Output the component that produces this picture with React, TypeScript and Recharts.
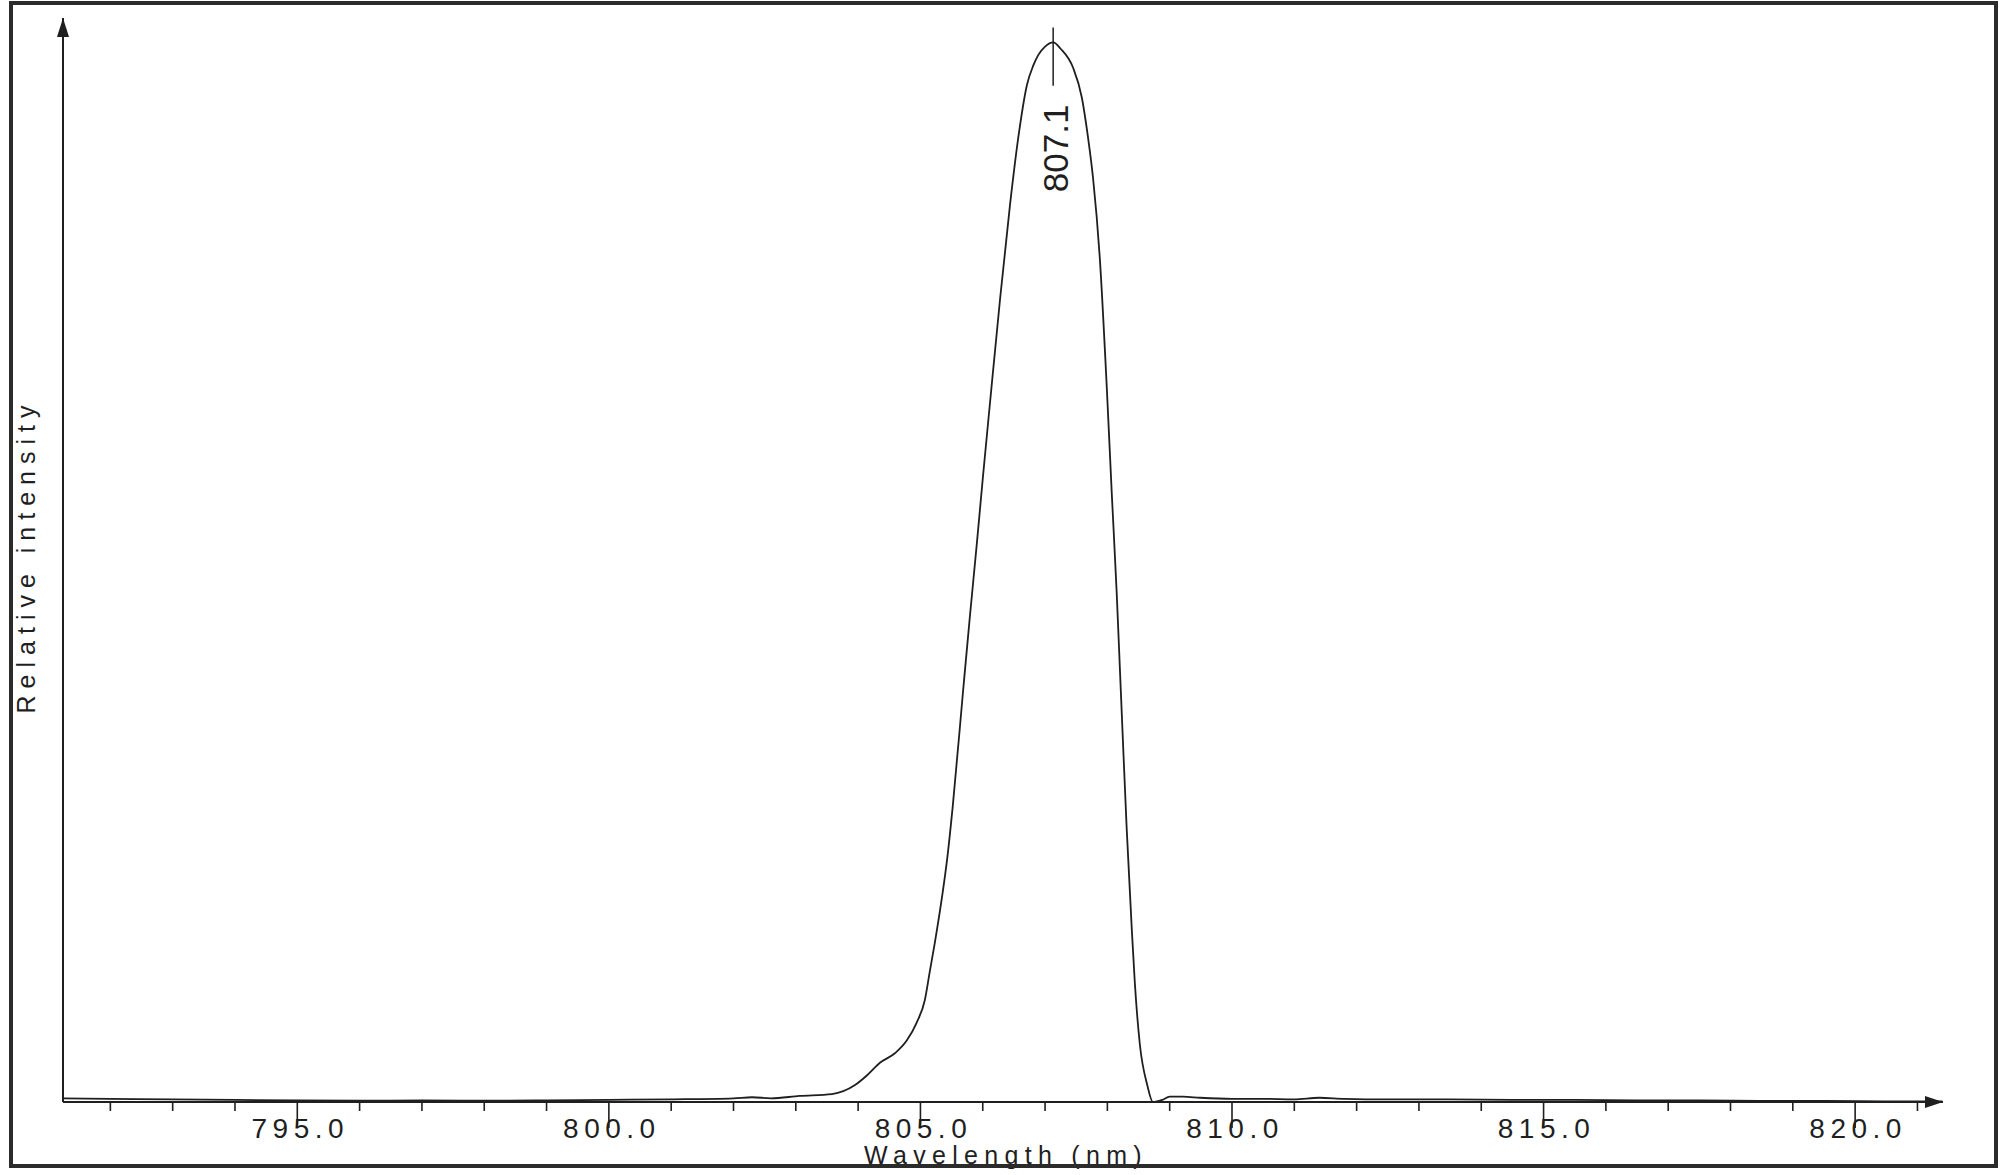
import { LineChart, Line, XAxis, YAxis, ReferenceLine, ReferenceDot } from 'recharts';

// emission spectrum
const wavelengthNm = [
  791.24, 792.0, 793.0, 794.0, 795.0, 796.0, 797.0, 798.0, 799.0, 800.0, 801.0, 802.0,
  802.3, 802.6, 803.06, 803.58, 803.95, 804.14, 804.35, 804.59, 804.78, 804.94,
  805.07, 805.15, 805.23, 805.35, 805.43, 805.52, 805.68, 805.79, 805.91,
  806.0, 806.12, 806.28, 806.44, 806.57, 806.71, 806.81, 806.89,
  807.0, 807.13, 807.25, 807.45, 807.59, 807.69, 807.77, 807.88, 807.99,
  808.07, 808.15, 808.2, 808.25, 808.31, 808.39, 808.44, 808.52, 808.64, 808.73, 808.88,
  809.0, 809.21, 809.49,
  810.0, 810.5, 811.0, 811.4, 811.8, 812.5, 813.5, 814.5, 815.5, 816.5, 817.5, 818.5, 819.5, 820.5, 821.4,
];
const relIntensity = [
  0.35, 0.3, 0.25, 0.2, 0.15, 0.12, 0.15, 0.12, 0.15, 0.2, 0.25, 0.35,
  0.45, 0.35, 0.57, 0.75, 1.6, 2.5, 3.7, 4.6, 5.8, 7.5,
  9.6, 12.3, 15.0, 19.5, 23.0, 28.0, 38.5, 45.6, 53.0,
  58.8, 66.2, 75.9, 84.8, 91.0, 96.0, 97.8, 98.8,
  99.6, 100, 99.4, 97.6, 94.8, 91.0, 87.2, 79.5, 67.5,
  57.5, 48.0, 41.0, 34.0, 25.8, 16.5, 11.3, 5.5, 1.6, 0.0, 0.2,
  0.5, 0.5, 0.4,
  0.3, 0.3, 0.25, 0.4, 0.3, 0.25, 0.25, 0.2, 0.2, 0.15, 0.15, 0.1, 0.1, 0.05, 0.05,
];
const xTicks = [
  792, 793, 794, 795, 796, 797, 798, 799, 800, 801, 802, 803, 804, 805, 806,
  807, 808, 809, 810, 811, 812, 813, 814, 815, 816, 817, 818, 819, 820, 821,
];
const xDomain = [791.24, 821.41];
const yDomain = [0, 102.3];
const peakNm = 807.13;
const peakLabel = '807.1';

const dados = wavelengthNm.map((w, i) => ({ nm: w, val: relIntensity[i] }));

const FONTE = '"Liberation Sans", Arial, Helvetica, sans-serif';
const COR = '#1f1f1f';

const TickEixoX = (props: any) => {
  const { x, y, payload } = props;
  const major = payload.value % 5 === 0;
  return (
    <g>
      <line x1={x} y1={y} x2={x} y2={y + (major ? 26 : 9)} stroke={COR} strokeWidth={1.6} />
      {major && (
        <text x={x + 3} y={y + 36} textAnchor="middle" fontFamily={FONTE} fontSize={28}
          letterSpacing={5.5} fill={COR}>
          {payload.value.toFixed(1)}
        </text>
      )}
    </g>
  );
};

export default function App() {
  return (
    <div style={{ position: 'relative', width: 2006, height: 1175, background: '#fff' }}>
      <style>{'body{margin:0;background:#fff}'}</style>
      <LineChart width={2006} height={1175} data={dados}
        margin={{ top: 18, right: 63, bottom: 72, left: 62 }}>
        <XAxis dataKey="nm" type="number" domain={xDomain} ticks={xTicks} height={1}
          tickSize={0} tickMargin={0} tickLine={false} interval={0}
          axisLine={{ stroke: COR, strokeWidth: 2 }} tick={(p: any) => <TickEixoX {...p} />}
          label={{
            content: ({ viewBox }: any) => (
              <text x={viewBox.x + viewBox.width / 2 + 3} y={viewBox.y + 62} textAnchor="middle"
                fontFamily={FONTE} fontSize={25} letterSpacing={6.3} fill={COR}>
                Wavelength (nm)
              </text>
            ),
          }} />
        <YAxis type="number" domain={yDomain} width={1} tick={false} tickLine={false}
          axisLine={{ stroke: COR, strokeWidth: 2 }}
          label={{
            content: ({ viewBox }: any) => {
              const cx = viewBox.x + viewBox.width - 28;
              const cy = viewBox.y + viewBox.height / 2 - 4;
              return (
                <text x={cx} y={cy} transform={`rotate(-90, ${cx}, ${cy})`} textAnchor="middle"
                  fontFamily={FONTE} fontSize={25} letterSpacing={7} fill={COR}>
                  Relative intensity
                </text>
              );
            },
          }} />
        <Line type="monotone" dataKey="val" stroke={COR} strokeWidth={1.8} dot={false}
          isAnimationActive={false} />
        <ReferenceLine segment={[{ x: peakNm, y: 95.9 }, { x: peakNm, y: 101.4 }]}
          stroke={COR} strokeWidth={1.5} ifOverflow="visible" />
        <ReferenceDot x={peakNm} y={90} r={0} ifOverflow="visible"
          shape={(p: any) => (
            <text x={p.cx + 2} y={p.cy} transform={`rotate(-90, ${p.cx + 2}, ${p.cy})`} textAnchor="middle"
              dominantBaseline="central" fontFamily={FONTE} fontSize={35} fill={COR}>
              {peakLabel}
            </text>
          )} />
        {/* setas dos eixos */}
        <ReferenceDot x={xDomain[0]} y={yDomain[1]} r={0} ifOverflow="visible"
          shape={(p: any) => (
            <path d={`M${p.cx},${p.cy} L${p.cx - 6},${p.cy + 19} L${p.cx + 6},${p.cy + 19} Z`} fill={COR} />
          )} />
        <ReferenceDot x={xDomain[1]} y={0} r={0} ifOverflow="visible"
          shape={(p: any) => (
            <path d={`M${p.cx},${p.cy} L${p.cx - 18},${p.cy - 6} L${p.cx - 18},${p.cy + 6} Z`} fill={COR} />
          )} />
      </LineChart>
      <div style={{
        position: 'absolute', left: 9, top: 1, width: 1989, height: 1167,
        border: '4px solid #2b2b2b', boxSizing: 'border-box', pointerEvents: 'none',
      }} />
    </div>
  );
}
